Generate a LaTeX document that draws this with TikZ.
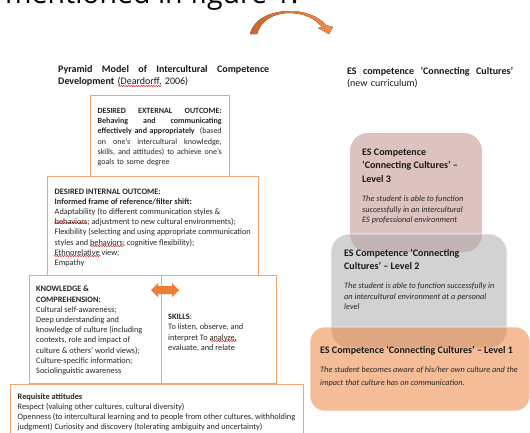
\documentclass[tikz,border=0pt]{standalone}
\usepackage{fontspec}
\setmainfont{Carlito}
\newfontfamily\topfont{Open Sans}
\usetikzlibrary{decorations.pathmorphing}
\definecolor{orgline}{HTML}{F4A56F}
\definecolor{orgfill}{HTML}{ED7D31}
\definecolor{curvd}{HTML}{C8682A}
\definecolor{curvl}{HTML}{F08C4A}
\definecolor{lthree}{HTML}{DDC3BF}
\tikzset{
 x=1pt,y=-1pt,
 boxo/.style={draw=orgline,line width=0.9pt,fill=white},
 txt/.style={inner sep=0pt,anchor=north west,align=left,text=black!85,font=\fontsize{8.3}{10.2}\selectfont},
 head/.style={inner sep=0pt,anchor=north west,align=left,text=black!90,font=\fontsize{10}{12}\selectfont},
 lvlh/.style={inner sep=0pt,anchor=north west,align=left,text=black!90,font=\fontsize{10}{13.2}\selectfont},
 lvld/.style={inner sep=0pt,anchor=north west,align=left,text=black!85,font=\fontsize{8.3}{10.4}\itshape\selectfont},
 squig/.style={draw=red!80!black,line width=.45pt,decorate,decoration={snake,amplitude=.5pt,segment length=2.5pt}},
}
\begin{document}
\begin{tikzpicture}
\useasboundingbox (0,0) rectangle (530,432);
\fill[white] (0,0) rectangle (530,432);
\begin{scope}
\clip (0,0) rectangle (530,432);
\node[anchor=base west,inner sep=0pt,text=black,font=\topfont\fontsize{28.5}{28.5}\selectfont] (top) at (5,3.5) {mentioned in figure 1.};
% curved arrow
\fill[left color=curvd,right color=curvl]
 (250,34) .. controls (254,18) and (272,11) .. (290,11)
 .. controls (305,11) and (318,16) .. (326,25)
 -- (333,27) -- (329,34) -- (318,28) -- (322,27)
 .. controls (314,18) and (304,13.5) .. (290,13)
 .. controls (274,13) and (261,20) .. (257,34) -- cycle;
% pyramid
\draw[boxo] (90.5,95.5) rectangle (229.5,177);
\node[txt,text width=124pt,font=\fontsize{8}{10.2}\selectfont] (ext) at (97.5,108) {\textbf{DESIRED\hfill EXTERNAL\hfill OUTCOME:} \\ \textbf{Behaving\hfill and\hfill communicating} \\ \textbf{effectively and appropriately}\hfill(based \\ on\hfill one’s\hfill intercultural\hfill knowledge, \\ skills,\hfill and\hfill attitudes)\hfill to\hfill achieve\hfill one’s \\ goals to some degree};
\draw[boxo] (47.5,176.5) rectangle (258.5,275.5);
\node[txt] (int) at (54.5,188.5) {\textbf{DESIRED INTERNAL OUTCOME:} \\ \textbf{Informed frame of reference/filter shift:} \\ Adaptability (to different communication styles \& \\ behaviors; adjustment to new cultural environments); \\ Flexibility (selecting and using appropriate communication \\ styles and behaviors; cognitive flexibility); \\ Ethnorelative view; \\ Empathy};
\draw[boxo] (161.5,275.5) rectangle (276.5,383.5);
\draw[boxo] (29.5,275.5) rectangle (161.5,383.5);
\node[txt] (kno) at (36,286) {\textbf{KNOWLEDGE \&} \\ \textbf{COMPREHENSION:} \\ Cultural self-awareness; \\ Deep understanding and \\ knowledge of culture (including \\ contexts, role and impact of \\ culture \& others’ world views); \\ Culture-specific information; \\ Sociolinguistic awareness};
\node[txt] (ski) at (168,314) {\textbf{SKILLS}: \\ To listen, observe, and \\ interpret To analyze, \\ evaluate, and relate};
\fill[orgfill] (151,290) -- (158,283) -- (158,286) -- (172,286) -- (172,283) -- (179,290) -- (172,297) -- (172,294) -- (158,294) -- (158,297) -- cycle;
\draw[boxo] (10.5,384.5) rectangle (303,440);
\end{scope}
\node[txt] (req) at (17.5,393) {\textbf{Requisite attitudes} \\ Respect (valuing other cultures, cultural diversity) \\ Openness (to intercultural learning and to people from other cultures, withholding \\ judgment) Curiosity and discovery (tolerating ambiguity and uncertainty)};
% titles
\node[head,text width=211pt] (t1) at (58,65) {\textbf{Pyramid\hfill Model\hfill of\hfill Intercultural\hfill Competence} \\ \textbf{Development} (Deardorff, 2006)};
\node[head,text width=166pt] (t2) at (347,67) {\textbf{ES\hfill competence\hfill ‘Connecting\hfill Cultures’} \\ (new curriculum)};
% squiggles
\draw[squig] (118,86) -- (162,86);
\draw[squig] (54,223) -- (88,223);
\draw[squig] (90,246) -- (124,246);
\draw[squig] (54,256) -- (101,256);
\draw[squig] (210,341) -- (237,341);
% levels
\fill[rounded corners=18pt,fill=lthree] (350,133) rectangle (482,252);
\path[rounded corners=18pt,fill=black!35,fill opacity=.5,draw=white,line width=.6pt,draw opacity=.9] (331,234) rectangle (507,348);
\path[rounded corners=15pt,fill=orgfill,fill opacity=.5,draw=white,line width=.6pt,draw opacity=.9] (310,327) rectangle (530,411);
\node[lvlh] (l3) at (362,149) {\textbf{ES Competence} \\ \textbf{‘Connecting Cultures’ –} \\ \textbf{Level 3}};
\node[lvld] (d3) at (362,196) {The student is able to function \\ successfully in an intercultural \\ ES professional environment};
\node[lvlh] (l2) at (344,249) {\textbf{ES Competence ‘Connecting} \\ \textbf{Cultures’ – Level 2}};
\node[lvld] (d2) at (344,283) {The student is able to function successfully in \\ an intercultural environment at a personal \\ level};
\node[lvlh] (l1) at (320,346) {\textbf{ES Competence ‘Connecting Cultures’ – Level 1}};
\node[lvld,font=\fontsize{8.3}{12.2}\itshape\selectfont] (d1) at (320,367) {The student becomes aware of his/her own culture and the \\ impact that culture has on communication.};
\end{tikzpicture}
\end{document}
